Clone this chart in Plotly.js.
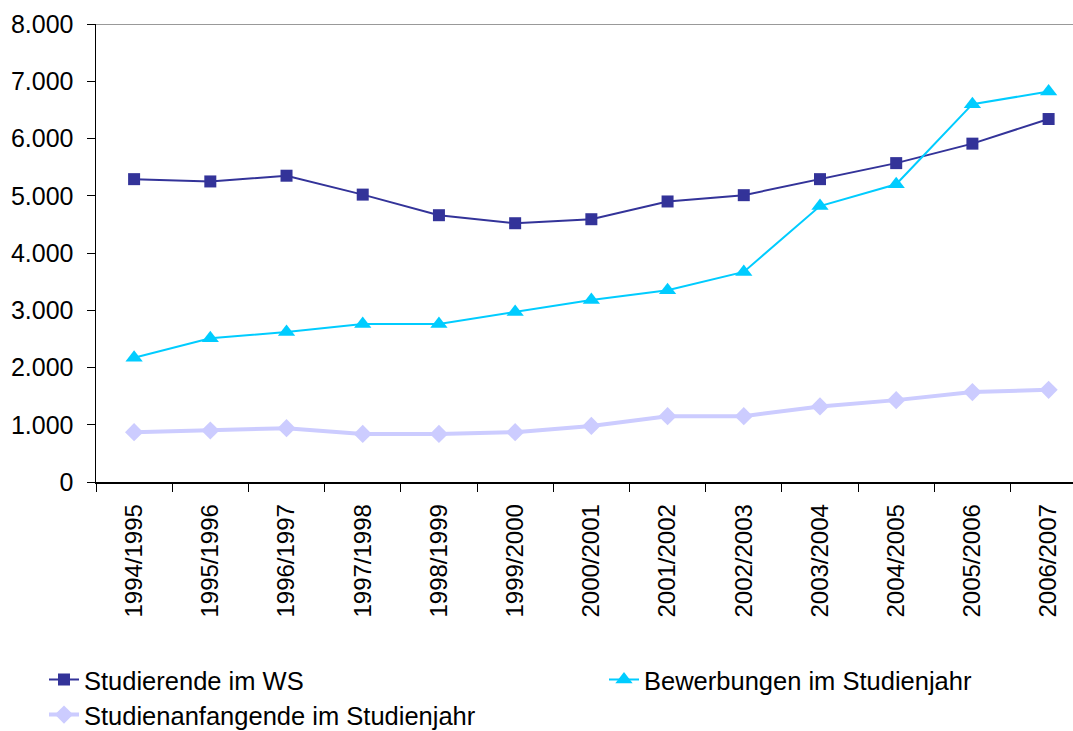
<!DOCTYPE html>
<html>
<head>
<meta charset="utf-8">
<script src="https://cdn.plot.ly/plotly-3.0.1.min.js"></script>
<style>html,body{margin:0;padding:0;background:#fff;}#chart{width:1073px;height:731px;}</style>
</head>
<body>
<div id="chart"></div>
<script>
const years = ["1994/1995","1995/1996","1996/1997","1997/1998","1998/1999","1999/2000","2000/2001","2001/2002","2002/2003","2003/2004","2004/2005","2005/2006","2006/2007"];
const studierende = [5290, 5250, 5350, 5020, 4660, 4520, 4590, 4900, 5010, 5290, 5570, 5910, 6340];
const bewerbungen = [2170, 2510, 2620, 2760, 2760, 2970, 3180, 3350, 3670, 4820, 5200, 6600, 6820];
const anfangende = [870, 900, 940, 840, 840, 870, 980, 1150, 1150, 1320, 1430, 1570, 1610];
const yTicks = [0, 1000, 2000, 3000, 4000, 5000, 6000, 7000, 8000];

const fam = "Liberation Sans, Arial, sans-serif";
const xFont = {family: fam, size: 24, color: "#000"};
const yFont = {family: fam, size: 25, color: "#000"};
const legFont = {family: fam, size: 25.5, color: "#000"};

const traces = [
  {x: years, y: studierende, name: "Studierende im WS", type: "scatter", mode: "lines+markers", legend: "legend",
   line: {color: "#333399", width: 2}, marker: {symbol: "square", size: 12, color: "#333399"}, cliponaxis: false},
  {x: years, y: bewerbungen, name: "Bewerbungen im Studienjahr", type: "scatter", mode: "lines+markers", legend: "legend2",
   line: {color: "#00CCFF", width: 2}, marker: {symbol: "triangle-up", size: 15, color: "#00CCFF"}, cliponaxis: false},
  {x: years, y: anfangende, name: "Studienanfangende im Studienjahr", type: "scatter", mode: "lines+markers", legend: "legend3",
   line: {color: "#CCCCFF", width: 4}, marker: {symbol: "diamond", size: 14, color: "#CCCCFF"}, cliponaxis: false}
];

function leg(x, y) {
  return {orientation: "v", x: x, xanchor: "left", y: y, yanchor: "middle", font: legFont,
          bgcolor: "rgba(0,0,0,0)", borderwidth: 0};
}

const layout = {
  width: 1073, height: 731,
  margin: {l: 96, r: 0, t: 24, b: 249, autoexpand: false},
  paper_bgcolor: "#fff", plot_bgcolor: "#fff",
  separators: ",.",
  font: yFont,
  showlegend: true,
  legend: leg((44 - 96) / 977, (482 - 680) / 458),
  legend2: leg((604 - 96) / 977, (482 - 680) / 458),
  legend3: leg((44 - 96) / 977, (482 - 715) / 458),
  xaxis: {type: "category", range: [-0.5, 12.32], tickson: "boundaries", ticks: "outside", ticklen: 8,
          tickcolor: "#000", tickwidth: 1, showline: true, linecolor: "#000", linewidth: 1.5,
          showgrid: false, tickangle: -90, tickfont: xFont, ticklabelstandoff: 11, fixedrange: true, automargin: false},
  yaxis: {range: [0, 8000], tickvals: yTicks, tickformat: ",d", ticks: "outside", ticklen: 8,
          tickcolor: "#000", tickwidth: 1, showline: true, linecolor: "#000", linewidth: 1.5,
          showgrid: false, zeroline: false, tickfont: yFont, ticklabelstandoff: 8, fixedrange: true, automargin: false},
  shapes: [{type: "line", xref: "paper", yref: "y", x0: 0, x1: 1, y0: 8000, y1: 8000,
            line: {color: "#999999", width: 2}}]
};

Plotly.newPlot("chart", traces, layout, {displayModeBar: false, staticPlot: true});
</script>
</body>
</html>
